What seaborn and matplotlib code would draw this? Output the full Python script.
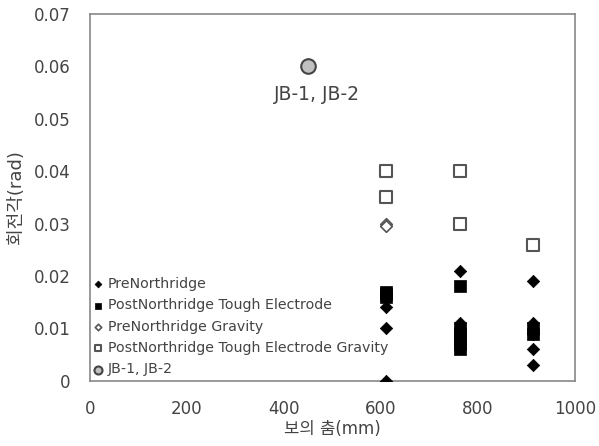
import matplotlib
matplotlib.use("Agg")
import matplotlib.pyplot as plt
import seaborn as sns
import pandas as pd

sns.set_style("white")
plt.rcParams['font.family'] = ['DejaVu Sans', 'Noto Sans CJK KR']

# Data (beam depth mm, rotation rad)
pre_x = [610, 610, 610, 762, 762, 762, 914, 914, 914, 914, 914]
pre_y = [0.014, 0.010, 0.0, 0.021, 0.011, 0.010, 0.019, 0.011, 0.009, 0.006, 0.003]
post_x = [610, 610, 610, 762, 762, 762, 762, 762, 762, 914, 914]
post_y = [0.017, 0.0165, 0.016, 0.018, 0.010, 0.009, 0.008, 0.007, 0.006, 0.010, 0.009]
preg_x = [610, 610]
preg_y = [0.030, 0.0295]
postg_x = [610, 610, 762, 762, 914]
postg_y = [0.040, 0.035, 0.040, 0.030, 0.026]
jb_x = [450]
jb_y = [0.060]

fig = plt.figure(figsize=(5.99, 4.46), dpi=100)
ax = fig.add_axes([0.150, 0.146, 0.810, 0.823])

sns.scatterplot(x=pre_x, y=pre_y, marker='D', s=40, color='black', edgecolor='black',
                linewidth=0.5, ax=ax, label='PreNorthridge', zorder=3)
sns.scatterplot(x=post_x, y=post_y, marker='s', s=70, color='black', edgecolor='black',
                linewidth=0.5, ax=ax, label='PostNorthridge Tough Electrode', zorder=3)
sns.scatterplot(x=preg_x, y=preg_y, marker='D', s=35, facecolor='white', edgecolor='#555555',
                linewidth=1.2, ax=ax, label='PreNorthridge Gravity', zorder=3)
sns.scatterplot(x=postg_x, y=postg_y, marker='s', s=80, facecolor='white', edgecolor='#555555',
                linewidth=1.5, ax=ax, label='PostNorthridge Tough Electrode Gravity', zorder=3)
sns.scatterplot(x=jb_x, y=jb_y, marker='o', s=110, color='#c0c0c0', edgecolor='#444444',
                linewidth=1.5, ax=ax, label='JB-1, JB-2', zorder=3)

ax.annotate('JB-1, JB-2', xy=(jb_x[0], jb_y[0]), xytext=(6, -20), textcoords='offset points',
            ha='center', va='center', fontsize=13.5, color='#444444')

ax.set_xlim(0, 1000)
ax.set_ylim(0, 0.07)
ax.set_xticks([0, 200, 400, 600, 800, 1000])
ax.set_yticks([0, 0.01, 0.02, 0.03, 0.04, 0.05, 0.06, 0.07])
ax.set_yticklabels(['0', '0.01', '0.02', '0.03', '0.04', '0.05', '0.06', '0.07'])
ax.tick_params(axis='both', length=0, labelsize=12, labelcolor='#444444')
ax.tick_params(axis='y', pad=14)
ax.tick_params(axis='x', pad=14)
for sp in ax.spines.values():
    sp.set_color('#888888')
    sp.set_linewidth(1.2)

ax.set_xlabel('보의 춤(mm)', fontsize=12, color='#444444', labelpad=1)
ax.set_ylabel('회전각(rad)', fontsize=13, color='#444444', labelpad=6)

leg = ax.legend(loc='lower left', bbox_to_anchor=(-0.018, -0.015), frameon=False, fontsize=10.2,
                handletextpad=0.2, labelspacing=0.52, markerscale=0.55, borderaxespad=0.3,
                handlelength=1.0)
for t in leg.get_texts():
    t.set_color('#444444')

fig.savefig('out.png', dpi=100)
